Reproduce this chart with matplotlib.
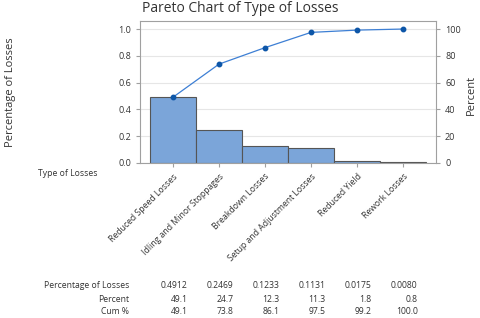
import matplotlib

matplotlib.use("Agg")

import matplotlib.pyplot as plt
import matplotlib.transforms as mtransforms

# Данные
categories = [
    "Reduced Speed Losses",
    "Idling and Minor Stoppages",
    "Breakdown Losses",
    "Setup and Adjustment Losses",
    "Reduced Yield",
    "Rework Losses",
]
share = [0.4912, 0.2469, 0.1233, 0.1131, 0.0175, 0.0080]
percent = [49.1, 24.7, 12.3, 11.3, 1.8, 0.8]
cum_percent = [49.1, 73.8, 86.1, 97.5, 99.2, 100.0]

plt.rcParams["font.family"] = ["Open Sans", "DejaVu Sans"]
text_color = "#333333"
frame_color = "#a0a0a0"

fig = plt.figure(figsize=(4.8, 3.18), dpi=100)
ax = fig.add_axes([140 / 480, 1 - 163 / 318, 296 / 480, 142 / 318])

x = list(range(len(categories)))
ax.bar(x, share, width=1.0, color="#7ba5d9", edgecolor="#555555", linewidth=0.8, zorder=2)
ax.set_xlim(-0.717, 5.717)
ax.set_ylim(0, 1.06)
ax.set_yticks([0.0, 0.2, 0.4, 0.6, 0.8, 1.0])
ax.set_yticklabels(["0.0", "0.2", "0.4", "0.6", "0.8", "1.0"])
ax.yaxis.grid(True, color="#e6e6e6", linewidth=0.8, zorder=0)
ax.set_axisbelow(True)
ax.set_xticks(x)
ax.set_xticklabels(categories, rotation=45, ha="right", rotation_mode="anchor", fontsize=6.2)
ax.tick_params(axis="both", colors=frame_color, labelcolor=text_color, length=3, width=0.8)
ax.tick_params(axis="y", labelsize=6.5)
for sp in ax.spines.values():
    sp.set_color(frame_color)
    sp.set_linewidth(0.8)

ax2 = ax.twinx()
ax2.plot(x, cum_percent, color="#3d7fd4", linewidth=0.9, marker="o", markersize=3.2,
         markerfacecolor="#0d56a8", markeredgecolor="#0d56a8", zorder=3)
ax2.set_ylim(0, 106)
ax2.set_yticks([0, 20, 40, 60, 80, 100])
ax2.tick_params(axis="y", colors=frame_color, labelcolor=text_color, length=3, width=0.8, labelsize=6.5)
for sp in ax2.spines.values():
    sp.set_visible(False)

fig.text(240 / 480, 1 - 8 / 318, "Pareto Chart of Type of Losses", ha="center", va="center",
         fontsize=10, color=text_color)
fig.text(11 / 480, 1 - 92 / 318, "Percentage of Losses", rotation=90, ha="center", va="center",
         fontsize=8, color=text_color)
fig.text(471 / 480, 1 - 95 / 318, "Percent", rotation=90, ha="center", va="center",
         fontsize=8, color=text_color)
fig.text(68 / 480, 1 - 174 / 318, "Type of Losses", ha="center", va="center",
         fontsize=6.2, color=text_color)

# Таблица под графиком
trans = mtransforms.blended_transform_factory(ax.transData, fig.transFigure)
row_labels = ["Percentage of Losses", "Percent", "Cum %"]
rows = [[f"{v:.4f}" for v in share], [f"{v:.1f}" for v in percent], [f"{v:.1f}" for v in cum_percent]]
row_y = [286, 299, 312]
for label, values, yy in zip(row_labels, rows, row_y):
    fig.text(129 / 480, 1 - yy / 318, label, ha="right", va="center", fontsize=6.2, color=text_color)
    for i, val in enumerate(values):
        fig.text(i + 0.32, 1 - yy / 318, val, ha="right", va="center", fontsize=6.2,
                 color=text_color, transform=trans)

fig.savefig("out.png", dpi=100)
